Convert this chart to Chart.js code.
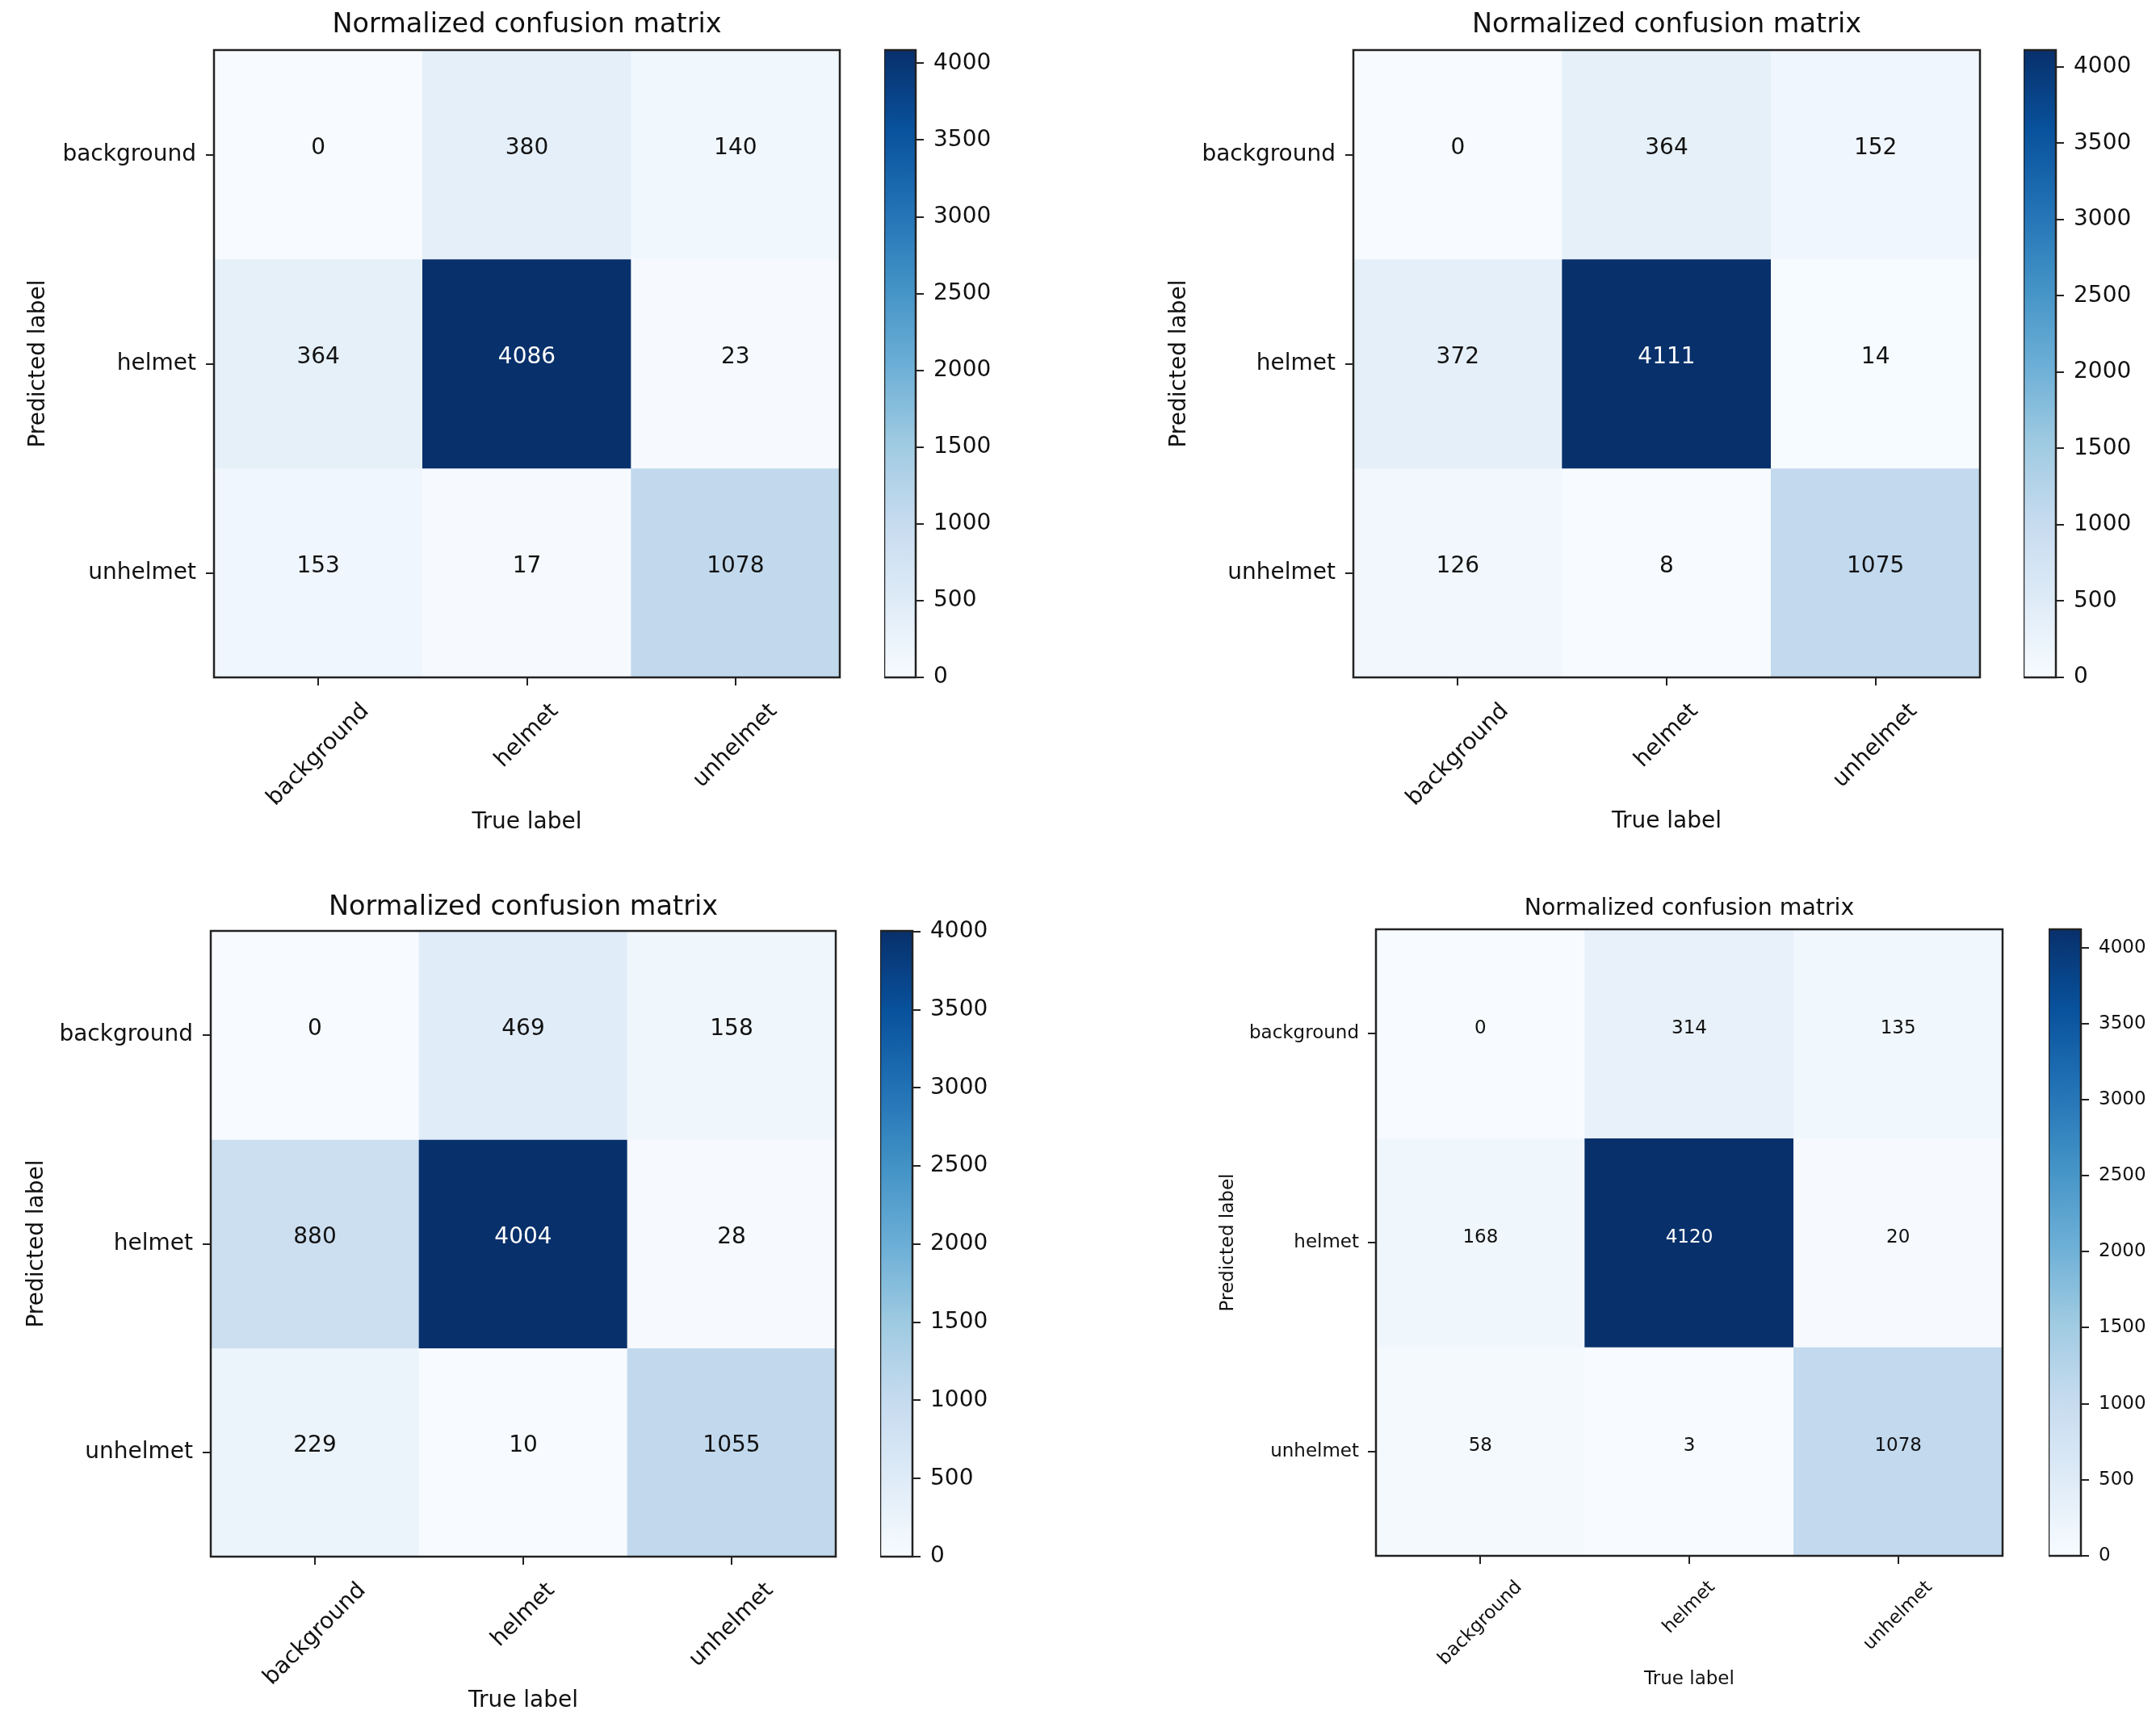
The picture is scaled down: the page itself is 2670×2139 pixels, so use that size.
<!DOCTYPE html>
<html>
<head>
<meta charset="utf-8">
<title>Normalized confusion matrix</title>
<script src="https://cdn.jsdelivr.net/npm/chart.js"></script>
<style>
  html, body { margin: 0; padding: 0; background: #fff; }
  #page { position: relative; width: 2670px; height: 2139px; overflow: hidden; background: #fff; }
  canvas { position: absolute; }
</style>
</head>
<body>
<div id="page"></div>
<script>
// class names: true label on x, predicted label on y
const classes = ['background', 'helmet', 'unhelmet'];

// counts, rows = predicted label, columns = true label
const matrixTopLeft     = [[0, 380, 140], [364, 4086, 23], [153, 17, 1078]];
const matrixTopRight    = [[0, 364, 152], [372, 4111, 14], [126, 8, 1075]];
const matrixBottomLeft  = [[0, 469, 158], [880, 4004, 28], [229, 10, 1055]];
const matrixBottomRight = [[0, 314, 135], [168, 4120, 20], [58, 3, 1078]];

// colorbar tick values
const colorbarTicks = [0, 500, 1000, 1500, 2000, 2500, 3000, 3500, 4000];

const chartTitle = 'Normalized confusion matrix';
const xTitle = 'True label';
const yTitle = 'Predicted label';

Chart.defaults.font.family = '"DejaVu Sans", sans-serif';
Chart.defaults.color = '#111';

// matplotlib "Blues" colormap
const blues = [
  [247, 251, 255], [222, 235, 247], [198, 219, 239], [158, 202, 225], [107, 174, 214],
  [66, 146, 198], [33, 113, 181], [8, 81, 156], [8, 48, 107]
];
function bluesColor(t) {
  t = Math.min(1, Math.max(0, t)) * (blues.length - 1);
  const i = Math.min(Math.floor(t), blues.length - 2);
  const f = t - i;
  const c = blues[i].map((v, k) => Math.round(v + (blues[i + 1][k] - v) * f));
  return `rgb(${c[0]},${c[1]},${c[2]})`;
}

// where each panel sits on the page (plot = left, top, right, bottom)
const panels = [
  { data: matrixTopLeft,     plot: [265, 62, 1040, 839],    cbar: [1095, 1134], titleY: 31,   trueY: 1019, predX: 48,   titleSize: 33.5, fontSize: 28,   tickPad: 12 },
  { data: matrixTopRight,    plot: [1676, 62, 2452, 839],   cbar: [2506, 2546], titleY: 31,   trueY: 1018, predX: 1461, titleSize: 33.5, fontSize: 28,   tickPad: 12 },
  { data: matrixBottomLeft,  plot: [261, 1153, 1035, 1928], cbar: [1090, 1130], titleY: 1124, trueY: 2107, predX: 46,   titleSize: 33.5, fontSize: 28,   tickPad: 12 },
  { data: matrixBottomRight, plot: [1704, 1151, 2480, 1927], cbar: [2537, 2577], titleY: 1126, trueY: 2080, predX: 1521, titleSize: 28.4, fontSize: 23,   tickPad: 11 }
];

const page = document.getElementById('page');

function addCanvas(left, top, width, height) {
  const c = document.createElement('canvas');
  c.width = width; c.height = height;
  c.style.left = left + 'px'; c.style.top = top + 'px';
  c.style.width = width + 'px'; c.style.height = height + 'px';
  page.appendChild(c);
  return c;
}

const gridOpts = { drawOnChartArea: false, drawTicks: true, tickLength: 10, color: '#222', lineWidth: 2 };

function drawMatrix(p) {
  const [pl, pt, pr, pb] = p.plot;
  const vmax = Math.max(...p.data.flat());
  const left = pl - 250, top = pt - 62, right = pr + 10, bottom = pb + 200;
  const fontStr = `${p.fontSize}px "DejaVu Sans"`;

  const decor = {
    id: 'matrixDecor',
    afterDatasetsDraw(chart) {
      const { ctx, chartArea: a, scales: { x, y } } = chart;
      ctx.save();
      // cell counts
      ctx.font = fontStr;
      ctx.textAlign = 'center';
      ctx.textBaseline = 'middle';
      p.data.forEach((row, r) => row.forEach((v, c) => {
        ctx.fillStyle = v > vmax / 2 ? '#fff' : '#111';
        ctx.fillText(String(v), x.getPixelForValue(c), y.getPixelForValue(r + 0.5) - p.fontSize * 0.28);
      }));
      // axes frame
      ctx.strokeStyle = '#222';
      ctx.lineWidth = 2.5;
      ctx.strokeRect(a.left, a.top, a.width, a.height);
      // rotated x tick labels, centred under the tick like matplotlib
      ctx.fillStyle = '#111';
      classes.forEach((lab, i) => {
        const w = ctx.measureText(lab).width;
        const half = (w + p.fontSize * 1.17) * Math.SQRT1_2 / 2;
        ctx.save();
        ctx.translate(x.getPixelForTick(i), a.bottom + 26 + half);
        ctx.rotate(-Math.PI / 4);
        ctx.fillText(lab, 0, 0);
        ctx.restore();
      });
      // title
      ctx.font = `${p.titleSize}px "DejaVu Sans"`;
      ctx.fillText(chartTitle, (a.left + a.right) / 2, p.titleY - top);
      ctx.restore();
    }
  };

  new Chart(addCanvas(left, top, right - left, bottom - top), {
    type: 'bar',
    data: {
      labels: classes,
      datasets: p.data.map((row, r) => ({
        label: classes[r],
        data: row.map(() => [r, r + 1]),
        backgroundColor: row.map(v => bluesColor(v / vmax)),
        borderWidth: 0,
        grouped: false,
        barPercentage: 1,
        categoryPercentage: 1
      }))
    },
    options: {
      responsive: false,
      animation: false,
      layout: { padding: { top: pt - top, right: 10, left: 0, bottom: 0 } },
      plugins: { legend: { display: false }, tooltip: { enabled: false } },
      scales: {
        x: {
          type: 'category',
          offset: true,
          grid: Object.assign({ offset: false }, gridOpts),
          border: { display: false },
          ticks: { display: false },
          title: {
            display: true, text: xTitle, color: '#111',
            font: { size: p.fontSize },
            padding: { top: 0, bottom: bottom - p.trueY - p.fontSize * 0.6 }
          },
          afterFit(s) { s.height = 200; }
        },
        y: {
          type: 'linear',
          reverse: true,
          min: 0,
          max: classes.length,
          afterBuildTicks(s) { s.ticks = classes.map((_, i) => ({ value: i + 0.5 })); },
          ticks: { callback: (v, i) => classes[i], font: { size: p.fontSize }, color: '#111', padding: p.tickPad },
          grid: gridOpts,
          border: { display: false },
          title: {
            display: true, text: yTitle, color: '#111',
            font: { size: p.fontSize },
            padding: { top: p.predX - left - p.fontSize * 0.6, bottom: 0 }
          },
          afterFit(s) { s.width = 250; }
        }
      }
    },
    plugins: [decor]
  });

  // colorbar
  const [cl, cr] = p.cbar;
  const ctop = pt - 40;
  const frame = {
    id: 'cbarFrame',
    afterDatasetsDraw(chart) {
      const { ctx, chartArea: a } = chart;
      ctx.save();
      ctx.strokeStyle = '#222';
      ctx.lineWidth = 2.5;
      ctx.strokeRect(a.left, a.top, a.width, a.height);
      ctx.restore();
    }
  };
  new Chart(addCanvas(cl, ctop, cr - cl + 120, pb - pt + 80), {
    type: 'bar',
    data: {
      labels: [''],
      datasets: [{
        data: [[0, vmax]],
        borderWidth: 0,
        barPercentage: 1,
        categoryPercentage: 1,
        backgroundColor(ctx) {
          const chart = ctx.chart;
          if (!chart.chartArea) return bluesColor(0.5);
          const y = chart.scales.y;
          const g = chart.ctx.createLinearGradient(0, y.getPixelForValue(0), 0, y.getPixelForValue(vmax));
          blues.forEach((_, i) => g.addColorStop(i / (blues.length - 1), bluesColor(i / (blues.length - 1))));
          return g;
        }
      }]
    },
    options: {
      responsive: false,
      animation: false,
      layout: { padding: { top: 40, bottom: 40, left: 0, right: 0 } },
      plugins: { legend: { display: false }, tooltip: { enabled: false } },
      scales: {
        x: { display: false },
        y: {
          position: 'right',
          min: 0,
          max: vmax,
          afterBuildTicks(s) { s.ticks = colorbarTicks.map(v => ({ value: v })); },
          ticks: { callback: v => String(v), font: { size: p.fontSize }, color: '#111', padding: 12 },
          grid: gridOpts,
          border: { display: false },
          afterFit(s) { s.width = 120; }
        }
      }
    },
    plugins: [frame]
  });
}

panels.forEach(drawMatrix);
</script>
</body>
</html>
